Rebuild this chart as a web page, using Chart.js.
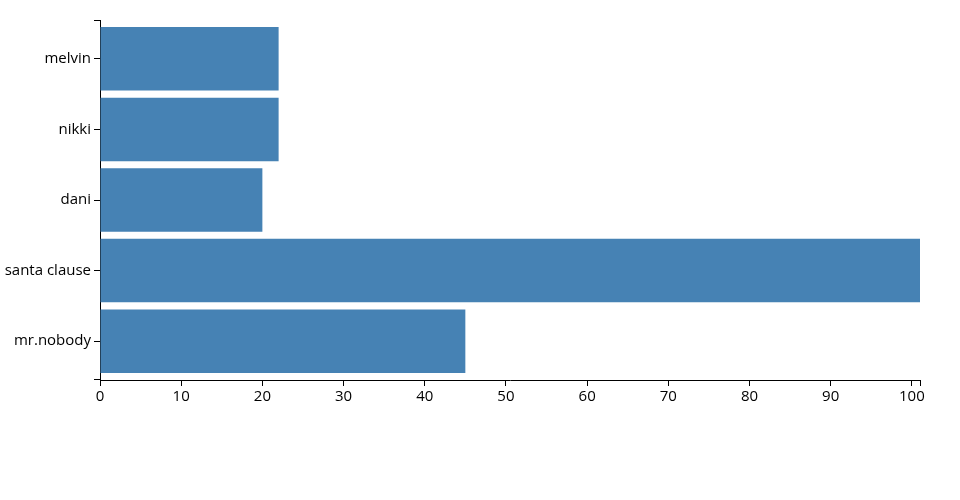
<!DOCTYPE html>
<html>
<head>
<meta charset="utf-8">
<script src="https://cdn.jsdelivr.net/npm/chart.js@4"></script>
<style>
  body { margin: 0; background: #fff; }
  canvas { display: block; }
</style>
</head>
<body>
<canvas id="chart" width="960" height="500"></canvas>
<script>
const names = ['melvin', 'nikki', 'dani', 'santa clause', 'mr.nobody'];
const scores = [22, 22, 20, 101, 45];
const xTicks = [0, 10, 20, 30, 40, 50, 60, 70, 80, 90, 100];
const xMax = 101;

// band layout like d3.scaleBand().padding(0.1): outer padding 0.1 step on each side
const bandPad = 0.1;

// outer ticks at the ends of the y axis, like a d3 axis
const outerTicks = {
    id: 'outerTicks',
    afterDraw(chart) {
        const y = chart.scales.y;
        const ctx = chart.ctx;
        ctx.save();
        ctx.strokeStyle = '#000';
        ctx.lineWidth = 1;
        ctx.beginPath();
        ctx.moveTo(y.right - 6, Math.round(y.top) + 0.5);
        ctx.lineTo(y.right, Math.round(y.top) + 0.5);
        ctx.moveTo(y.right - 6, Math.round(y.bottom) - 0.5);
        ctx.lineTo(y.right, Math.round(y.bottom) - 0.5);
        ctx.stroke();
        ctx.restore();
    }
};

new Chart(document.getElementById('chart'), {
    type: 'bar',
    data: {
        datasets: [{
            data: names.map((n, i) => ({ x: scores[i], y: i })),
            backgroundColor: '#4682b4',
            borderWidth: 0,
            categoryPercentage: 1 - bandPad,
            barPercentage: 1
        }]
    },
    options: {
        indexAxis: 'y',
        responsive: false,
        animation: false,
        layout: { padding: { left: 0, right: 40, top: 20, bottom: 90 } },
        plugins: { legend: { display: false }, tooltip: { enabled: false } },
        scales: {
            x: {
                type: 'linear',
                min: 0,
                max: xMax,
                afterFit: s => { s.height = 30; },
                afterBuildTicks: s => { s.ticks = xTicks.concat([xMax]).map(v => ({ value: v })); },
                ticks: {
                    color: '#000',
                    padding: 2,
                    font: { family: 'Open Sans', size: 15 },
                    callback: v => (xTicks.includes(v) ? v : '')
                },
                grid: { drawOnChartArea: false, color: '#000', tickLength: 6 },
                border: { color: '#000', width: 1 }
            },
            y: {
                type: 'linear',
                reverse: true,
                offset: false,
                min: -0.5 - bandPad / 2,
                max: names.length - 0.5 + bandPad / 2,
                afterFit: s => { s.width = 100; },
                afterBuildTicks: s => { s.ticks = names.map((n, i) => ({ value: i })); },
                ticks: {
                    color: '#000',
                    padding: 3,
                    font: { family: 'Open Sans', size: 15 },
                    callback: v => names[v]
                },
                grid: { drawOnChartArea: false, offset: false, color: '#000', tickLength: 6 },
                border: { color: '#000', width: 1 }
            }
        }
    },
    plugins: [outerTicks]
});
</script>
</body>
</html>
